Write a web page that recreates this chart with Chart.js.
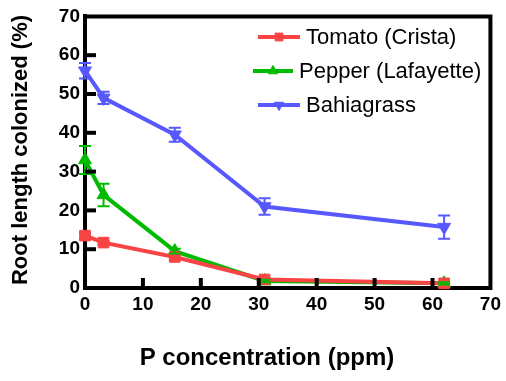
<!DOCTYPE html>
<html>
<head>
<meta charset="utf-8">
<script src="https://cdn.jsdelivr.net/npm/chart.js@4/dist/chart.umd.min.js"></script>
<style>
html,body{margin:0;padding:0;background:#fff;}
#wrap{width:506px;height:381px;position:relative;}
</style>
</head>
<body>
<div id="wrap"><canvas id="c" width="506" height="381"></canvas></div>
<script>
// ---- data ----
const pConc = [0, 3.2, 15.5, 31, 62];
const tomato = [13.5, 11.7, 8.0, 2.2, 1.2];
const tomatoErr = [0.8, 0.5, 0.7, 0.3, 0.3];
const pepper = [33.0, 24.0, 9.5, 1.8, 1.2];
const pepperErr = [3.6, 2.9, 0.6, 0.3, 0.3];
const bahia = [56.0, 49.0, 39.5, 21.0, 15.7];
const bahiaErr = [2.0, 1.6, 1.8, 2.1, 3.0];
const seriesNames = ['Tomato (Crista)', 'Pepper (Lafayette)', 'Bahiagrass'];
const xTicks = [0, 10, 20, 30, 40, 50, 60, 70];
const yTicks = [0, 10, 20, 30, 40, 50, 60, 70];
const xTitle = 'P concentration (ppm)';
const yTitle = 'Root length colonized (%)';

const RED = '#f84444', GREEN = '#00bb00', BLUE = '#5858ff';

function pts(ys){ return pConc.map((x,i)=>({x:x,y:ys[i]})); }

const errs = [tomatoErr, pepperErr, bahiaErr];

const customPlugin = {
  id: 'custom',
  afterDatasetsDraw(chart){
    const ctx = chart.ctx, xs = chart.scales.x, ys = chart.scales.y;
    chart.data.datasets.forEach((ds, di) => {
      ctx.save();
      ctx.strokeStyle = ds.borderColor;
      ctx.lineWidth = 2;
      ds.data.forEach((p, i) => {
        const e = errs[di][i];
        const px = xs.getPixelForValue(p.x);
        const top = ys.getPixelForValue(p.y + e);
        const bot = ys.getPixelForValue(p.y - e);
        ctx.beginPath();
        ctx.moveTo(px, top); ctx.lineTo(px, bot);
        ctx.moveTo(px - 6, top); ctx.lineTo(px + 6, top);
        ctx.moveTo(px - 6, bot); ctx.lineTo(px + 6, bot);
        ctx.stroke();
      });
      ctx.restore();
    });
  },
  afterDraw(chart){
    const ctx = chart.ctx, a = chart.chartArea, xs = chart.scales.x, ys = chart.scales.y;
    ctx.save();
    ctx.strokeStyle = '#000';
    // top & right frame
    ctx.lineWidth = 4;
    ctx.beginPath();
    ctx.moveTo(a.left - 2, a.top); ctx.lineTo(a.right, a.top); ctx.lineTo(a.right, a.bottom + 2);
    ctx.stroke();
    // inward ticks
    ctx.lineWidth = 4;
    xTicks.forEach(v => {
      if (v === 0 || v === 70) return;
      const px = xs.getPixelForValue(v);
      ctx.beginPath(); ctx.moveTo(px, a.bottom); ctx.lineTo(px, a.bottom - 10); ctx.stroke();
    });
    yTicks.forEach(v => {
      if (v === 0 || v === 70) return;
      const py = ys.getPixelForValue(v);
      ctx.beginPath(); ctx.moveTo(a.left, py); ctx.lineTo(a.left + 11, py); ctx.stroke();
    });
    // titles
    ctx.fillStyle = '#000';
    ctx.font = 'bold 24px "Liberation Sans", Arial, sans-serif';
    ctx.textAlign = 'center';
    ctx.textBaseline = 'middle';
    ctx.fillText(xTitle, 267, 358);
    ctx.save();
    ctx.translate(21, 150);
    ctx.rotate(-Math.PI/2);
    ctx.font = 'bold 22px "Liberation Sans", Arial, sans-serif';
    ctx.fillText(yTitle, 0, 0);
    ctx.restore();
    // legend
    const rows = [
      {name: seriesNames[0], c: RED, style: 'rect', rot: 0, x1: 258, x2: 300, tx: 306, y: 37},
      {name: seriesNames[1], c: GREEN, style: 'triangle', rot: 0, x1: 253, x2: 293, tx: 299, y: 71},
      {name: seriesNames[2], c: BLUE, style: 'triangle', rot: 180, x1: 258, x2: 300, tx: 306, y: 105}
    ];
    ctx.font = '22px "Liberation Sans", Arial, sans-serif';
    ctx.textAlign = 'left';
    rows.forEach(r => {
      ctx.strokeStyle = r.c; ctx.lineWidth = 4;
      ctx.beginPath(); ctx.moveTo(r.x1, r.y); ctx.lineTo(r.x2, r.y); ctx.stroke();
      ctx.fillStyle = r.c; ctx.strokeStyle = r.c; ctx.lineWidth = 1;
      Chart.helpers.drawPoint(ctx, {pointStyle: r.style, rotation: r.rot, radius: 5.5, borderWidth: 1}, (r.x1 + r.x2)/2, r.y);
      ctx.fillStyle = '#000';
      ctx.fillText(r.name, r.tx, r.y + 1);
    });
    ctx.restore();
  }
};

const mk = (label, ys, color, style, rot) => ({
  label: label, data: pts(ys), showLine: true,
  borderColor: color, backgroundColor: color, borderWidth: 4,
  pointStyle: style, rotation: rot, pointRadius: 7.5, pointHoverRadius: 7.5,
  pointBorderWidth: 1, clip: false, tension: 0
});

new Chart(document.getElementById('c'), {
  type: 'scatter',
  data: {
    datasets: [
      mk(seriesNames[0], tomato, RED, 'rect', 0),
      mk(seriesNames[1], pepper, GREEN, 'triangle', 0),
      mk(seriesNames[2], bahia, BLUE, 'triangle', 180)
    ]
  },
  options: {
    responsive: false, animation: false, devicePixelRatio: 1,
    layout: { padding: { top: 13, right: 11, left: 0, bottom: 0 } },
    plugins: { legend: { display: false }, tooltip: { enabled: false } },
    scales: {
      x: {
        type: 'linear', min: 0, max: 70, z: 1,
        afterFit(s){ s.height = 93; },
        afterBuildTicks(s){ s.ticks = xTicks.map(v => ({value: v})); },
        grid: { display: false, drawTicks: false, tickLength: 0 },
        border: { display: true, color: '#000', width: 4 },
        ticks: { color: '#000', padding: 5, maxRotation: 0,
          font: { family: '"Liberation Sans", Arial, sans-serif', size: 19, weight: 'bold' } }
      },
      y: {
        type: 'linear', min: 0, max: 70, z: 1,
        afterFit(s){ s.width = 85; },
        afterBuildTicks(s){ s.ticks = yTicks.map(v => ({value: v})); },
        grid: { display: false, drawTicks: false, tickLength: 0 },
        border: { display: true, color: '#000', width: 4 },
        ticks: { color: '#000', padding: 5,
          font: { family: '"Liberation Sans", Arial, sans-serif', size: 19, weight: 'bold' } }
      }
    }
  },
  plugins: [customPlugin]
});
</script>
</body>
</html>
